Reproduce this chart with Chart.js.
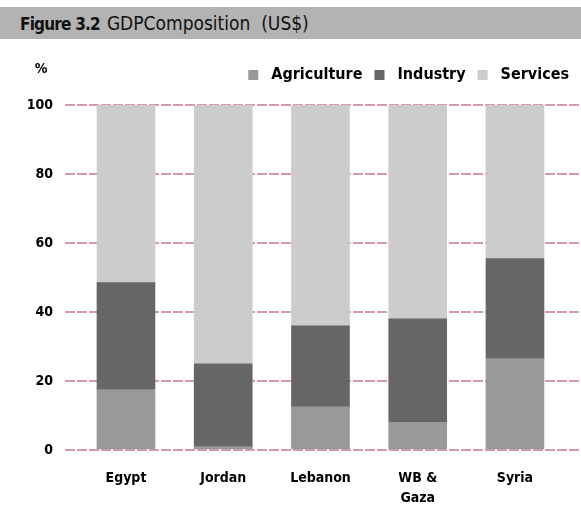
<!DOCTYPE html>
<html>
<head>
<meta charset="utf-8">
<script src="https://cdn.jsdelivr.net/npm/chart.js@4/dist/chart.umd.min.js"></script>
<style>
  html, body { margin: 0; padding: 0; background: #fff; width: 581px; height: 515px; overflow: hidden; }
  .head { position: absolute; left: 0; top: 7px; width: 581px; height: 32px; background: #b3b3b3;
          font-family: "DejaVu Sans Condensed", "Liberation Sans Narrow", sans-serif; font-stretch: condensed; font-size: 19px;
          line-height: 32px; color: #111; }
  .head b { margin-left: 20px; margin-right: 7px; font-size: 17px; letter-spacing: -0.8px; }
  #wrap { position: absolute; left: 0; top: 39px; width: 581px; height: 476px; }
</style>
</head>
<body>
<div class="head"><b>Figure 3.2</b>GDPComposition &nbsp;(US$)</div>
<div id="wrap"><canvas id="c" width="581" height="476"></canvas></div>
<script>
// Share of GDP by sector, per cent
const countries = ['Egypt', 'Jordan', 'Lebanon', ['WB &', 'Gaza'], 'Syria'];
const agriculture = [17.5, 1, 12.5, 8, 26.5];
const industry = [31, 24, 23.5, 30, 29];
const services = [51.5, 75, 64, 62, 44.5];
const yTicks = [0, 20, 40, 60, 80, 100];

const FONT = '"DejaVu Sans Condensed", "Liberation Sans Narrow", sans-serif';

const toPoints = arr => arr.map((v, i) => ({ x: i, y: v }));

// "%" unit label above the value axis
const percentLabel = {
  id: 'percentLabel',
  afterDraw(chart) {
    const { ctx, chartArea } = chart;
    ctx.save();
    ctx.font = 'bold 14px ' + FONT;
    ctx.fillStyle = '#000';
    ctx.textAlign = 'center';
    ctx.textBaseline = 'middle';
    ctx.fillText('%', 41, chartArea.top - 36);
    ctx.restore();
  }
};

// extra room between the legend and the plot
const legendGap = {
  id: 'legendGap',
  beforeInit(chart) {
    const fit = chart.legend.fit;
    chart.legend.fit = function () {
      fit.bind(chart.legend)();
      this.height += 12;
    };
  }
};

new Chart(document.getElementById('c'), {
  type: 'bar',
  data: {
    datasets: [
      { label: 'Agriculture', data: toPoints(agriculture), backgroundColor: '#999999' },
      { label: 'Industry', data: toPoints(industry), backgroundColor: '#666666' },
      { label: 'Services', data: toPoints(services), backgroundColor: '#cccccc' }
    ]
  },
  options: {
    responsive: false,
    animation: false,
    barThickness: 58,
    layout: { padding: { top: 16, right: 0, left: 0, bottom: 0 } },
    plugins: {
      legend: {
        position: 'top',
        align: 'end',
        labels: {
          boxWidth: 10, boxHeight: 10, padding: 12,
          color: '#000',
          font: { family: FONT, size: 16, weight: 'bold' },
          generateLabels(chart) {
            return chart.data.datasets.map((d, i) => ({
              text: ' ' + d.label,
              fillStyle: d.backgroundColor,
              strokeStyle: d.backgroundColor,
              lineWidth: 0,
              datasetIndex: i,
              fontColor: '#000'
            }));
          }
        }
      },
      tooltip: { enabled: false }
    },
    scales: {
      x: {
        type: 'linear',
        stacked: true,
        offset: false,
        min: -0.627,
        max: 4.679,
        afterBuildTicks(scale) { scale.ticks = countries.map((_, i) => ({ value: i })); },
        afterFit(scale) { scale.height = 65; },
        grid: { display: false, drawTicks: false },
        border: { display: false },
        ticks: {
          autoSkip: false,
          maxRotation: 0,
          padding: 18,
          color: '#000',
          font: { family: FONT, size: 14, weight: 'bold', lineHeight: 1.45 },
          callback: (v) => countries[v]
        }
      },
      y: {
        stacked: true,
        min: 0,
        max: 100,
        afterBuildTicks(scale) { scale.ticks = yTicks.map(v => ({ value: v })); },
        afterFit(scale) { scale.width = 65; },
        grid: { color: '#d99aae', lineWidth: 2, drawTicks: false },
        border: { display: false, dash: [10, 2] },
        ticks: {
          padding: 12,
          color: '#000',
          font: { family: FONT, size: 14, weight: 'bold' }
        }
      }
    }
  },
  plugins: [percentLabel, legendGap]
});
</script>
</body>
</html>
